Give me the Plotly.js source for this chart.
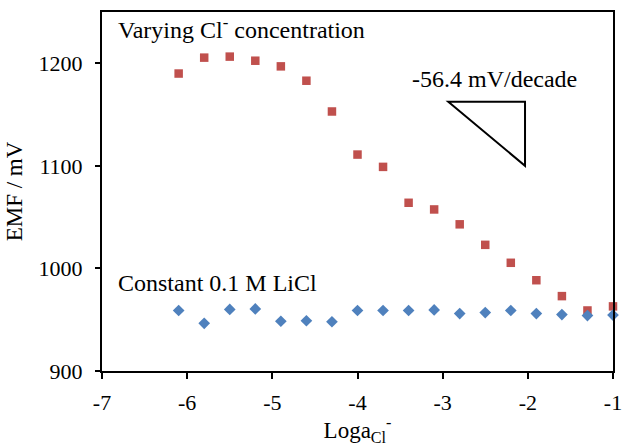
<!DOCTYPE html>
<html>
<head>
<meta charset="utf-8">
<script src="https://cdn.plot.ly/plotly-3.0.1.min.js"></script>
<style>html,body{margin:0;padding:0;background:#fff;}#chart{width:626px;height:446px;}</style>
</head>
<body>
<div id="chart"></div>
<script>
// Data
const logActivity = [-6.1, -5.8, -5.5, -5.2, -4.9, -4.6, -4.3, -4.0, -3.7, -3.4, -3.1, -2.8, -2.5, -2.2, -1.9, -1.6, -1.3, -1.0];
const emfVarying = [1190, 1205.5, 1206.5, 1202.5, 1197, 1183, 1153, 1111, 1099, 1064, 1057.5, 1043, 1023, 1005.5, 988.5, 973, 959, 963];
const emfConstant = [959, 946.5, 960, 960.5, 948.5, 949, 948, 959, 959, 959, 959.5, 956, 957, 959, 956, 955, 954, 954.5];
const xTickVals = [-7, -6, -5, -4, -3, -2, -1];
const xTickText = ['-7', '-6', '-5', '-4', '-3', '-2', '-1'];
const yTickVals = [900, 1000, 1100, 1200];
const yTickText = ['900', '1000', '1100', '1200'];
// Slope guide triangle (data coordinates)
const triX = [-2.934, -2.033];
const triY = [1162.5, 1100];

const FONT = '"Liberation Serif", "Times New Roman", serif';

const traces = [
  {
    x: logActivity, y: emfVarying, type: 'scatter', mode: 'markers',
    name: 'Varying Cl-',
    marker: {symbol: 'square', size: 8.5, color: '#C0504D'},
    cliponaxis: false
  },
  {
    x: logActivity, y: emfConstant, type: 'scatter', mode: 'markers',
    name: 'Constant 0.1 M LiCl',
    marker: {symbol: 'diamond', size: 9, color: '#4F81BD'},
    cliponaxis: false
  }
];

const layout = {
  width: 626, height: 446,
  margin: {l: 102, r: 13, t: 12, b: 75, pad: 0},
  paper_bgcolor: '#fff', plot_bgcolor: '#fff',
  showlegend: false,
  font: {family: FONT, size: 22, color: '#000'},
  xaxis: {
    range: [-7, -1], tickvals: xTickVals, ticktext: xTickText,
    showgrid: false, zeroline: false,
    showline: true, linecolor: '#000', linewidth: 2, mirror: true,
    ticks: 'outside', ticklen: 6, tickwidth: 2, tickcolor: '#000',
    ticklabelstandoff: 5,
    tickfont: {family: FONT, size: 22, color: '#000'},
    title: {text: 'Loga<sub>Cl</sub><sup>-</sup>', font: {family: FONT, size: 23, color: '#000'}, standoff: 10}
  },
  yaxis: {
    range: [900, 1250], tickvals: yTickVals, ticktext: yTickText,
    showgrid: false, zeroline: false,
    showline: true, linecolor: '#000', linewidth: 2, mirror: true,
    ticks: 'outside', ticklen: 5, tickwidth: 2, tickcolor: '#000',
    ticklabelstandoff: 8,
    tickfont: {family: FONT, size: 22, color: '#000'},
    title: {text: 'EMF / mV', font: {family: FONT, size: 23, color: '#000'}, standoff: 10}
  },
  shapes: [
    {type: 'path', xref: 'x', yref: 'y',
     path: `M ${triX[0]},${triY[0]} L ${triX[1]},${triY[0]} L ${triX[1]},${triY[1]} Z`,
     line: {color: '#000', width: 2}, fillcolor: 'rgba(0,0,0,0)'}
  ],
  annotations: [
    {xref: 'paper', yref: 'paper', x: 0.027, y: 0.955, xanchor: 'left', yanchor: 'middle',
     text: 'Varying Cl<sup>-</sup> concentration', showarrow: false,
     font: {family: FONT, size: 24, color: '#000'}},
    {xref: 'paper', yref: 'paper', x: 0.027, y: 0.245, xanchor: 'left', yanchor: 'middle',
     text: 'Constant 0.1 M LiCl', showarrow: false,
     font: {family: FONT, size: 24, color: '#000'}},
    {xref: 'paper', yref: 'paper', x: 0.603, y: 0.813, xanchor: 'left', yanchor: 'middle',
     text: '-56.4 mV/decade', showarrow: false,
     font: {family: FONT, size: 24, color: '#000'}}
  ]
};

Plotly.newPlot('chart', traces, layout, {displayModeBar: false, staticPlot: true});
</script>
</body>
</html>
